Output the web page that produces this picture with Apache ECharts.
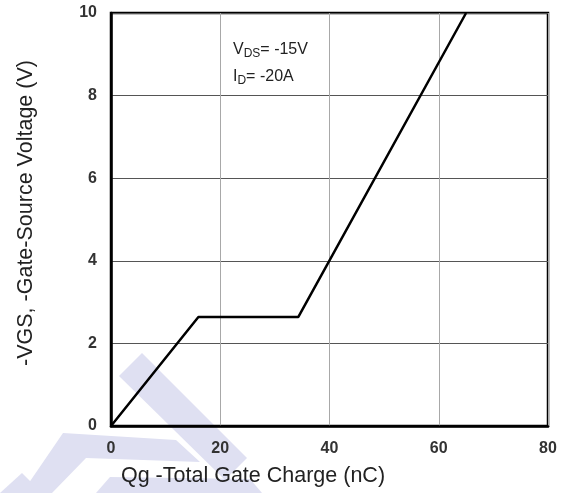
<!DOCTYPE html>
<html>
<head>
<meta charset="utf-8">
<script src="https://cdn.jsdelivr.net/npm/echarts@6/dist/echarts.min.js"></script>
<style>
  html, body { margin: 0; padding: 0; background: #fff; }
  #chart { width: 564px; height: 493px; }
</style>
</head>
<body>
<div id="chart"></div>
<script>
// Gate charge curve: -VGS versus total gate charge Qg
const gateCharge = [0, 16, 34.3, 65];      // nC
const gateVoltage = [0, 2.64, 2.64, 10];   // V
const xTicks = [0, 20, 40, 60, 80];
const yTicks = [0, 2, 4, 6, 8, 10];

const tickFont = '"Liberation Sans", Arial, sans-serif';
const textFont = '"Liberation Sans", Arial, sans-serif';
const wmColor = '#dfe0f2';

const chart = echarts.init(document.getElementById('chart'));
chart.setOption({
  animation: false,
  backgroundColor: '#fff',
  grid: {
    left: 111, right: 16, top: 13, bottom: 67,
    show: true, borderColor: '#000', borderWidth: 2.5
  },
  xAxis: {
    type: 'value',
    min: xTicks[0], max: xTicks[xTicks.length - 1], interval: 20,
    axisLine: { show: true, lineStyle: { color: '#000', width: 2.5 } },
    axisTick: { show: false },
    splitLine: { show: true, lineStyle: { color: '#a8a8a8', width: 1 } },
    axisLabel: {
      margin: 15, color: '#333', fontFamily: tickFont, fontWeight: 'bold', fontSize: 16
    }
  },
  yAxis: {
    type: 'value',
    min: yTicks[0], max: yTicks[yTicks.length - 1], interval: 2,
    axisLine: { show: true, lineStyle: { color: '#000', width: 2.5 } },
    axisTick: { show: false },
    splitLine: { show: true, lineStyle: { color: '#555', width: 1 } },
    axisLabel: {
      margin: 14, color: '#333', fontFamily: tickFont, fontWeight: 'bold', fontSize: 16
    }
  },
  series: [{
    type: 'line',
    data: gateCharge.map((q, i) => [q, gateVoltage[i]]),
    symbol: 'none',
    lineStyle: { color: '#000', width: 2.5 },
    z: 5
  }],
  graphic: [
    // faint logo watermark behind the plot
    { type: 'polygon', z: -1, silent: true,
      shape: { points: [[142, 353], [247, 458], [225, 480], [119, 376]] },
      style: { fill: wmColor } },
    { type: 'polygon', z: -1, silent: true,
      shape: { points: [[63, 433], [176, 440], [200, 462], [86, 458], [52, 493], [22, 493]] },
      style: { fill: wmColor } },
    { type: 'polygon', z: -1, silent: true,
      shape: { points: [[110, 477], [250, 479], [262, 493], [96, 493]] },
      style: { fill: wmColor } },
    { type: 'polygon', z: -1, silent: true,
      shape: { points: [[22, 473], [34, 485], [26, 493], [0, 493], [0, 493]] },
      style: { fill: wmColor } },
    // axis titles
    { type: 'text', x: 253, y: 476, z: 10,
      style: { text: 'Qg -Total Gate Charge (nC)', fill: '#222',
        font: '21.5px ' + textFont, align: 'center', verticalAlign: 'middle' } },
    { type: 'text', z: 10, x: 26, y: 213, rotation: Math.PI / 2,
      style: { text: '-VGS, -Gate-Source Voltage (V)', fill: '#222',
        font: '21.5px ' + textFont, align: 'center', verticalAlign: 'middle' } },
    // test conditions
    { type: 'text', x: 233, y: 36, z: 10,
      style: {
        text: '{m|V}{s|DS}{m|= -15V}\n{m|I}{s|D}{m|= -20A}',
        rich: {
          m: { fontSize: 16, fontFamily: textFont, fill: '#222', lineHeight: 27, verticalAlign: 'middle' },
          s: { fontSize: 12, fontFamily: textFont, fill: '#222', lineHeight: 27, verticalAlign: 'bottom', padding: [0, 0, 3, 0] }
        }
      } }
  ]
});
</script>
</body>
</html>
